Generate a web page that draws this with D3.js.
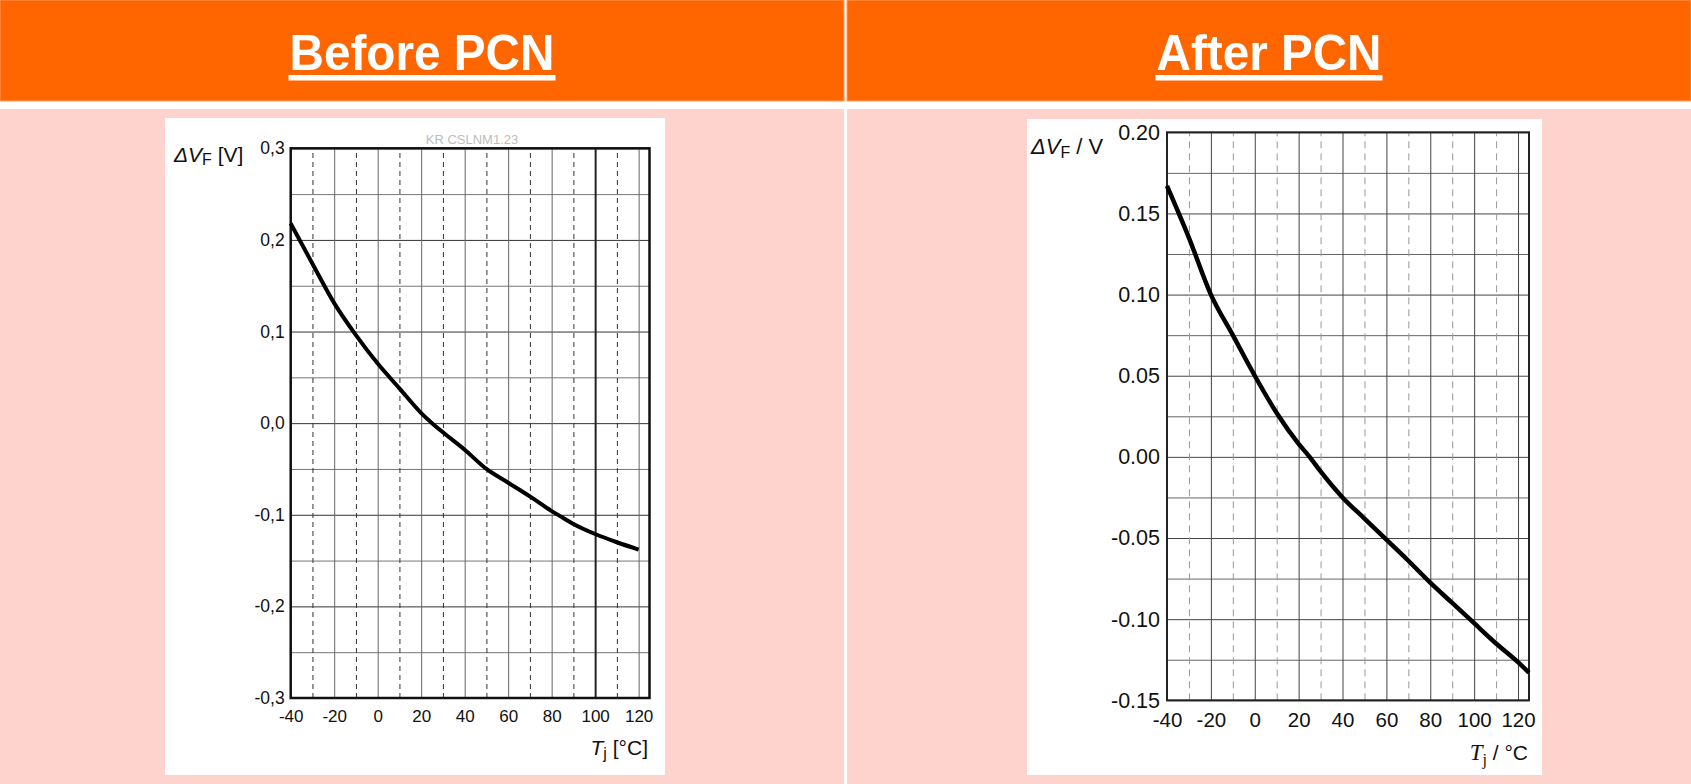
<!DOCTYPE html>
<html>
<head>
<meta charset="utf-8">
<script src="https://cdn.jsdelivr.net/npm/d3@7"></script>
<style>
body { margin: 0; background: #fff; }
svg { display: block; font-family: "Liberation Sans", Arial, sans-serif; }
</style>
</head>
<body>
<div id="chart"></div>
<script>
// values
var before_temp = [-40, -30, -20, -10, 0, 10, 20, 25, 30, 40, 50, 60, 70, 80, 85, 90, 100, 110, 120];
var before_dvf  = [0.218, 0.174, 0.131, 0.096, 0.065, 0.038, 0.011, 0.0, -0.010, -0.029, -0.050, -0.065, -0.080, -0.096, -0.103, -0.110, -0.121, -0.130, -0.138];

var after_temp = [-40, -30, -20, -10, 0, 10, 20, 25, 30, 40, 50, 60, 70, 80, 90, 100, 110, 120, 125];
var after_dvf  = [0.167, 0.135, 0.100, 0.075, 0.050, 0.027, 0.008, 0.0, -0.009, -0.025, -0.038, -0.051, -0.064, -0.0775, -0.090, -0.1025, -0.115, -0.1265, -0.133];

var x_ticks = [-40, -20, 0, 20, 40, 60, 80, 100, 120];
var x_tick_labels = ["-40", "-20", "0", "20", "40", "60", "80", "100", "120"];

var before_y_ticks = [-0.3, -0.2, -0.1, 0, 0.1, 0.2, 0.3];
var before_y_labels = ["-0,3", "-0,2", "-0,1", "0,0", "0,1", "0,2", "0,3"];

var after_y_ticks = [-0.15, -0.10, -0.05, 0, 0.05, 0.10, 0.15, 0.20];
var after_y_labels = ["-0.15", "-0.10", "-0.05", "0.00", "0.05", "0.10", "0.15", "0.20"];

var titles = ["Before PCN", "After PCN"];

var W = 1691, H = 784;
var orange = "#ff6600", pink = "#ffd3cd";

var svg = d3.select("#chart").append("svg")
    .attr("width", W)
    .attr("height", H);

// header bars + pink panels
var halves = [{x0: 0, x1: 844, tw: 265}, {x0: 847, x1: W, tw: 225}];
halves.forEach((h, i) => {
    svg.append("rect").attr("x", h.x0).attr("y", 0).attr("width", h.x1 - h.x0).attr("height", 101)
        .attr("fill", orange).attr("stroke", "#ff9a5c").attr("stroke-width", 1);
    svg.append("rect").attr("x", h.x0).attr("y", 109).attr("width", h.x1 - h.x0).attr("height", H - 109)
        .attr("fill", pink);

    var cx = (h.x0 + h.x1) / 2;
    svg.append("text")
        .attr("x", cx)
        .attr("y", 70)
        .attr("text-anchor", "middle")
        .attr("fill", "#fff")
        .attr("font-size", 50)
        .attr("font-weight", "bold")
        .attr("textLength", h.tw)
        .attr("lengthAdjust", "spacingAndGlyphs")
        .text(titles[i]);
    svg.append("rect")
        .attr("x", cx - h.tw / 2 - 1)
        .attr("y", 75)
        .attr("width", h.tw + 2)
        .attr("height", 5.5)
        .attr("fill", "#fff");
});

function drawPanel(cfg) {
    svg.append("rect").attr("x", cfg.box[0]).attr("y", cfg.box[1])
        .attr("width", cfg.box[2] - cfg.box[0]).attr("height", cfg.box[3] - cfg.box[1])
        .attr("fill", "#fff");

    var x = d3.scaleLinear().domain([-40, 125]).range([cfg.left, cfg.right]);
    var y = d3.scaleLinear().domain(cfg.y_domain).range([cfg.bottom, cfg.top]);
    var height = cfg.bottom - cfg.top, width = cfg.right - cfg.left;

    var g = svg.append("g");

    // horizontal grid, minor then major
    g.append("g").attr("transform", "translate(" + cfg.left + ",0)")
        .call(d3.axisLeft(y).tickValues(cfg.y_minor).tickSize(-width).tickFormat(""))
        .call(a => a.select(".domain").remove())
        .selectAll("line").attr("stroke", cfg.minor_color).attr("stroke-width", 1);
    g.append("g").attr("transform", "translate(" + cfg.left + ",0)")
        .call(d3.axisLeft(y).tickValues(cfg.y_ticks).tickSize(-width).tickFormat(""))
        .call(a => a.select(".domain").remove())
        .selectAll("line").attr("stroke", cfg.major_color).attr("stroke-width", 1);

    // vertical grid: dashed odd tens, solid even
    g.append("g").attr("transform", "translate(0," + cfg.bottom + ")")
        .call(d3.axisBottom(x).tickValues(d3.range(-30, 120, 20)).tickSize(-height).tickFormat(""))
        .call(a => a.select(".domain").remove())
        .selectAll("line").attr("stroke", cfg.dash_color).attr("stroke-width", 1).attr("stroke-dasharray", cfg.dash);
    g.append("g").attr("transform", "translate(0," + cfg.bottom + ")")
        .call(d3.axisBottom(x).tickValues(x_ticks).tickSize(-height).tickFormat(""))
        .call(a => a.select(".domain").remove())
        .selectAll("line")
            .attr("stroke", d => (cfg.bold100 && d == 100) ? "#222" : cfg.vmajor_color)
            .attr("stroke-width", d => (cfg.bold100 && d == 100) ? 2 : 1);

    // tick labels
    var ya = g.append("g").attr("transform", "translate(" + cfg.left + ",0)")
        .call(d3.axisLeft(y).tickValues(cfg.y_ticks).tickSize(0).tickPadding(cfg.ypad)
            .tickFormat((d, i) => cfg.y_labels[i]));
    ya.select(".domain").remove();
    ya.selectAll("text").attr("font-size", cfg.yfont).attr("fill", "#111")
        .attr("font-family", "'Liberation Sans', Arial, sans-serif");

    var xa = g.append("g").attr("transform", "translate(0," + cfg.bottom + ")")
        .call(d3.axisBottom(x).tickValues(x_ticks).tickSize(0).tickPadding(cfg.xpad)
            .tickFormat((d, i) => x_tick_labels[i]));
    xa.select(".domain").remove();
    xa.selectAll("text").attr("font-size", cfg.xfont).attr("fill", "#111")
        .attr("font-family", "'Liberation Sans', Arial, sans-serif");

    // frame
    g.append("rect").attr("x", cfg.left).attr("y", cfg.top).attr("width", width).attr("height", height)
        .attr("fill", "none").attr("stroke", cfg.frame_color).attr("stroke-width", cfg.frame_w);

    // curve
    var line = d3.line().x(d => x(d[0])).y(d => y(d[1])).curve(d3.curveMonotoneX);
    g.append("path")
        .attr("d", line(d3.zip(cfg.temp, cfg.dvf)))
        .attr("fill", "none")
        .attr("stroke", "#000")
        .attr("stroke-width", cfg.line_w)
        .attr("stroke-linejoin", "round");

    return g;
}

var left = drawPanel({
    box: [165, 118, 665, 775],
    left: 290.7, right: 649.5, top: 148.3, bottom: 698,
    y_domain: [-0.3, 0.3],
    y_ticks: before_y_ticks, y_labels: before_y_labels,
    y_minor: [-0.25, -0.15, -0.05, 0.05, 0.15, 0.25],
    major_color: "#333", minor_color: "#777", vmajor_color: "#666",
    dash_color: "#333", dash: "5,4", bold100: true,
    frame_color: "#111", frame_w: 2.5,
    ypad: 6, xpad: 12, yfont: 17.5, xfont: 17,
    temp: before_temp, dvf: before_dvf, line_w: 4
});

var right = drawPanel({
    box: [1027, 119, 1542, 775],
    left: 1167, right: 1529, top: 132.3, bottom: 700.3,
    y_domain: [-0.15, 0.20],
    y_ticks: after_y_ticks, y_labels: after_y_labels,
    y_minor: [-0.125, -0.075, -0.025, 0.025, 0.075, 0.125, 0.175],
    major_color: "#444", minor_color: "#666", vmajor_color: "#444",
    dash_color: "#999", dash: "7,5", bold100: false,
    frame_color: "#222", frame_w: 2,
    ypad: 7, xpad: 12.5, yfont: 21.5, xfont: 20.5,
    temp: after_temp, dvf: after_dvf, line_w: 4.5
});

// axis titles, left panel
var t1 = svg.append("text").attr("x", 174).attr("y", 162).attr("font-size", 21).attr("fill", "#111");
t1.append("tspan").attr("font-style", "italic").text("\u0394V");
t1.append("tspan").attr("font-size", 16).attr("dy", 3).text("F");
t1.append("tspan").attr("dy", -3).text(" [V]");

var t2 = svg.append("text").attr("x", 648).attr("y", 755).attr("text-anchor", "end").attr("font-size", 21).attr("fill", "#111");
t2.append("tspan").attr("font-style", "italic").text("T");
t2.append("tspan").attr("font-size", 16).attr("dy", 4).text("j");
t2.append("tspan").attr("dy", -4).text(" [°C]");

svg.append("text").attr("x", 472).attr("y", 144).attr("text-anchor", "middle")
    .attr("font-size", 13).attr("fill", "#bdbdbd").text("KR CSLNM1.23");

// axis titles, right panel
var t3 = svg.append("text").attr("x", 1031).attr("y", 154).attr("font-size", 22).attr("fill", "#111");
t3.append("tspan").attr("font-style", "italic").text("\u0394V");
t3.append("tspan").attr("font-size", 16).attr("dy", 4).text("F");
t3.append("tspan").attr("dy", -4).text(" / V");

var t4 = svg.append("text").attr("x", 1528).attr("y", 760).attr("text-anchor", "end").attr("font-size", 21).attr("fill", "#111");
t4.append("tspan").attr("font-style", "italic").attr("font-family", "'Liberation Serif', serif").attr("font-size", 23).text("T");
t4.append("tspan").attr("font-family", "'Liberation Serif', serif").attr("font-size", 16).attr("dy", 5).text("j");
t4.append("tspan").attr("dy", -5).text(" / °C");
</script>
</body>
</html>
